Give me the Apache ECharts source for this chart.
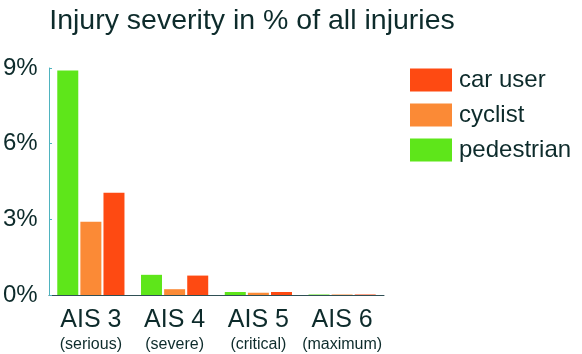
<!DOCTYPE html>
<html>
<head>
<meta charset="utf-8">
<script src="https://cdn.jsdelivr.net/npm/echarts@6/dist/echarts.min.js"></script>
<style>
  html, body { margin: 0; padding: 0; background: #fff; }
</style>
</head>
<body>
<div id="chart" style="width:582px;height:354px;"></div>
<script>
// AIS levels, two-line labels
const categories = ['AIS 3', 'AIS 4', 'AIS 5', 'AIS 6']
const subLabels = ['(serious)', '(severe)', '(critical)', '(maximum)']
// percent of all injuries
const pedestrian = [8.9, 0.8, 0.12, 0.02]
const cyclist = [2.9, 0.23, 0.09, 0.02]
const carUser = [4.05, 0.77, 0.12, 0.02]
const yTicks = [0, 3, 6, 9]

const textColor = '#0d2b2b'
const font = 'Liberation Sans, Arial, sans-serif'

const myChart = echarts.init(document.getElementById('chart'))
const option = {
  animation: false,
  title: {
    text: 'Injury severity in % of all injuries',
    left: 247,
    textAlign: 'center',
    top: 2,
    textStyle: { fontFamily: font, fontSize: 28.5, fontWeight: 'normal', color: textColor }
  },
  legend: {
    data: ['car user', 'cyclist', 'pedestrian'],
    orient: 'vertical',
    left: 405,
    top: 63,
    itemWidth: 42,
    itemHeight: 23,
    itemGap: 11,
    icon: 'rect',
    textStyle: { fontFamily: font, fontSize: 24, color: textColor, padding: [0, 0, 0, 2] }
  },
  grid: { left: 44, right: 198, top: 68, bottom: 59 },
  xAxis: {
    type: 'category',
    data: categories,
    axisLine: { lineStyle: { color: '#2f4f55', width: 1 } },
    axisTick: { inside: true, length: 4, lineStyle: { color: '#2f4f55' } },
    axisLabel: {
      interval: 0,
      margin: 12,
      formatter: function(v, i) { return '{a|' + v + '}\n{b|' + subLabels[i] + '}' },
      rich: {
        a: { fontFamily: font, fontSize: 25, color: textColor, lineHeight: 26 },
        b: { fontFamily: font, fontSize: 16, color: textColor, lineHeight: 23 }
      }
    }
  },
  yAxis: {
    type: 'value',
    min: 0,
    max: 9,
    interval: 3,
    axisLine: { show: true, lineStyle: { color: '#4fb3bf', width: 1 } },
    axisTick: { show: true, inside: true, length: 3, lineStyle: { color: '#4fb3bf' } },
    splitLine: { show: false },
    axisLabel: {
      align: 'left',
      margin: 46,
      fontFamily: font,
      fontSize: 24,
      color: textColor,
      formatter: function(v) { return yTicks.indexOf(v) >= 0 ? v + '%' : '' }
    }
  },
  series: [
    { name: 'pedestrian', type: 'bar', data: pedestrian, barWidth: 21, barGap: '10%', itemStyle: { color: '#5ee61a' } },
    { name: 'cyclist', type: 'bar', data: cyclist, barWidth: 21, barGap: '10%', itemStyle: { color: '#fb8a36' } },
    { name: 'car user', type: 'bar', data: carUser, barWidth: 21, barGap: '10%', itemStyle: { color: '#fe4a12' } }
  ]
}
myChart.setOption(option)
</script>
</body>
</html>
